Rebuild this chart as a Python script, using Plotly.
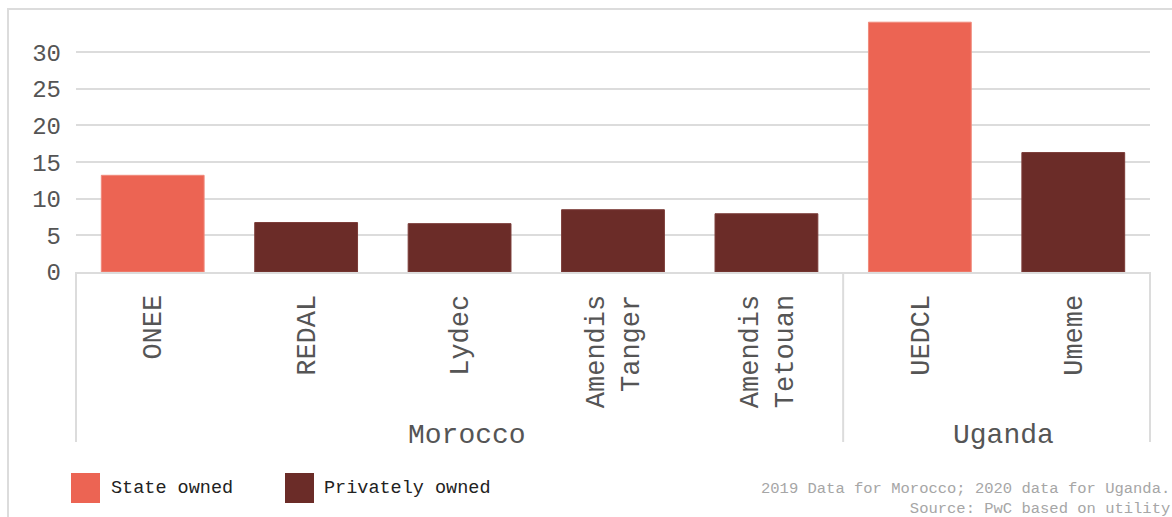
import plotly.graph_objects as go

countries = ["Morocco", "Morocco", "Morocco", "Morocco", "Morocco", "Uganda", "Uganda"]
utilities = ["ONEE", "REDAL", "Lydec", "Amendis<br>Tanger", "Amendis<br>Tetouan", "UEDCL", "Umeme"]
values = [13.2, 6.75, 6.6, 8.5, 7.95, 34.1, 16.3]
ownership = ["State owned", "Privately owned", "Privately owned", "Privately owned",
             "Privately owned", "State owned", "Privately owned"]
legend_labels = ["State owned", "Privately owned"]
colors = {"State owned": "#EC6453", "Privately owned": "#6B2C28"}
line_colors = {"State owned": "#F08A7C", "Privately owned": "#7A3A36"}
y_ticks = [0, 5, 10, 15, 20, 25, 30]
footer = "2019 Data for Morocco; 2020 data for Uganda.<br>Source: PwC based on utility"

FONT = "Liberation Mono, DejaVu Sans Mono, monospace"
TXT = "#555555"
GRID = "#dcdcdc"

fig = go.Figure(go.Bar(
    x=utilities,
    y=values,
    marker=dict(color=[colors[o] for o in ownership],
                line=dict(color=[line_colors[o] for o in ownership], width=1)),
    showlegend=False,
    hoverinfo="x+y",
))

fig.update_layout(
    width=1172, height=517,
    margin=dict(l=76, r=22, t=20, b=245),
    paper_bgcolor="white", plot_bgcolor="white",
    font=dict(family=FONT, color=TXT),
    bargap=0.33,
    showlegend=False,
)

fig.update_yaxes(
    range=[0, 34.4], tickvals=y_ticks, showgrid=True, gridcolor=GRID, gridwidth=2,
    zeroline=False, showline=False, tickfont=dict(size=24, color=TXT),
    ticklabelstandoff=14,
)
fig.update_xaxes(
    type="category", tickangle=-90, tickfont=dict(size=27, color=TXT),
    showline=True, linecolor=GRID, linewidth=2,
    ticklabelstandoff=10, showgrid=False,
)

# group dividers and group labels (computed from the country list)
n = len(countries)
bounds = [0] + [i for i in range(1, n) if countries[i] != countries[i - 1]] + [n]
for b in bounds:
    fig.add_shape(type="line", xref="paper", yref="paper",
                  ysizemode="pixel", yanchor=0,
                  x0=b / n, x1=b / n, y0=0, y1=-170,
                  line=dict(color=GRID, width=2))
for a, b in zip(bounds[:-1], bounds[1:]):
    fig.add_annotation(xref="paper", yref="paper", x=(a + b) / 2 / n, y=0,
                       xshift=7, yshift=-163, xanchor="center", yanchor="middle",
                       showarrow=False, text=countries[a],
                       font=dict(size=28, color=TXT, family=FONT))

# outer frame
fig.add_shape(type="rect", xref="paper", yref="paper",
              x0=(8 - 76) / 1074, x1=1.2, y0=-1.2, y1=(272 - 9) / 252,
              line=dict(color=GRID, width=2), fillcolor="rgba(0,0,0,0)", layer="below")

# legend (manual, large swatches)
sw_x = [-5, 209]
tx_x = [33, 246]
for lab, sx, tx in zip(legend_labels, sw_x, tx_x):
    fig.add_shape(type="rect", xref="paper", yref="paper",
                  xsizemode="pixel", ysizemode="pixel", xanchor=0, yanchor=0,
                  x0=sx, x1=sx + 29, y0=-201, y1=-231,
                  line=dict(width=0), fillcolor=colors[lab])
    fig.add_annotation(xref="paper", yref="paper", x=0, y=0, xshift=tx, yshift=-216,
                       xanchor="left", yanchor="middle", showarrow=False,
                       text=lab, font=dict(size=18.5, color="#222222", family=FONT))

fig.add_annotation(xref="paper", yref="paper", x=1, y=0, xshift=22, yshift=-226.5,
                   xanchor="right", yanchor="middle", align="right", showarrow=False,
                   text=footer, font=dict(size=15.5, color="#a6a6a6", family=FONT))

fig.write_html("out.html")
